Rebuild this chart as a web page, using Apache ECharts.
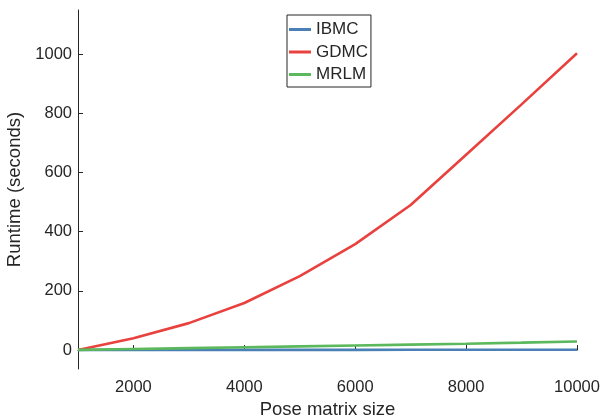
<!DOCTYPE html>
<html>
<head>
    <meta charset="utf-8">
    <title>Runtime</title>
    <script src="https://cdn.jsdelivr.net/npm/echarts@6.0.0/dist/echarts.min.js"></script>
    <style>
        html, body { margin: 0; padding: 0; background: #fff; }
        #chart { width: 600px; height: 418px; }
    </style>
</head>
<body>
    <div id="chart"></div>
    <script>
        // 数据
        var sizes = [1000, 2000, 3000, 4000, 5000, 6000, 7000, 8000, 9000, 10000];
        var ibmc = [0.2, 0.3, 0.4, 0.5, 0.6, 0.7, 0.8, 0.9, 1.0, 1.1];
        var gdmc = [0, 40, 91, 159, 250, 358, 490, 660, 830, 1003];
        var mrlm = [0.5, 3.5, 6.5, 9.5, 12.5, 15.5, 18.5, 21.5, 25, 29];
        var xTicks = [2000, 4000, 6000, 8000, 10000];
        var yTicks = [0, 200, 400, 600, 800, 1000];

        function pairs(ys) {
            return sizes.map(function (x, i) { return [x, ys[i]]; });
        }

        var chart = echarts.init(document.getElementById('chart'));
        var font = '"Liberation Sans", Arial, Helvetica, sans-serif';
        var ink = '#262626';
        var plain = function (v) { return String(v); };

        var option = {
            animation: false,
            textStyle: { fontFamily: font },
            grid: { left: 78, right: 23, top: 10, bottom: 49, containLabel: false, outerBoundsMode: 'none' },
            legend: {
                left: 287,
                top: 15,
                orient: 'vertical',
                icon: 'rect',
                itemWidth: 22,
                itemHeight: 3,
                itemGap: 5.5,
                padding: [6, 3, 4, 2],
                borderColor: ink,
                borderWidth: 1,
                textStyle: { fontSize: 17, color: ink, fontFamily: font },
                data: ['IBMC', 'GDMC', 'MRLM']
            },
            xAxis: {
                type: 'value',
                min: 1000,
                max: 10000,
                name: 'Pose matrix size',
                nameLocation: 'middle',
                nameGap: 31,
                nameTextStyle: { fontSize: 18.5, color: ink, fontFamily: font },
                axisLine: { lineStyle: { color: ink, width: 1 } },
                axisTick: { inside: true, length: 5, lineStyle: { color: ink }, customValues: xTicks },
                axisLabel: { fontSize: 16.5, color: ink, margin: 10, customValues: xTicks, formatter: plain },
                splitLine: { show: false }
            },
            yAxis: {
                type: 'value',
                min: -64,
                max: 1149,
                name: 'Runtime (seconds)',
                nameLocation: 'middle',
                nameGap: 42,
                nameTextStyle: { fontSize: 18.5, color: ink, fontFamily: font },
                axisLine: { show: true, lineStyle: { color: ink, width: 1 } },
                axisTick: { show: true, inside: true, length: 5, lineStyle: { color: ink }, customValues: yTicks },
                axisLabel: { fontSize: 16.5, color: ink, margin: 6, customValues: yTicks, formatter: plain },
                splitLine: { show: false }
            },
            series: [
                {
                    name: 'IBMC', type: 'line', symbol: 'none', data: pairs(ibmc),
                    lineStyle: { color: '#4a80b5', width: 2.6 }, itemStyle: { color: '#4a80b5' }
                },
                {
                    name: 'GDMC', type: 'line', symbol: 'none', data: pairs(gdmc),
                    lineStyle: { color: '#e8413e', width: 2.6 }, itemStyle: { color: '#e8413e' }
                },
                {
                    name: 'MRLM', type: 'line', symbol: 'none', data: pairs(mrlm),
                    lineStyle: { color: '#5cb85c', width: 2.6 }, itemStyle: { color: '#5cb85c' }
                }
            ]
        };
        chart.setOption(option);
    </script>
</body>
</html>
